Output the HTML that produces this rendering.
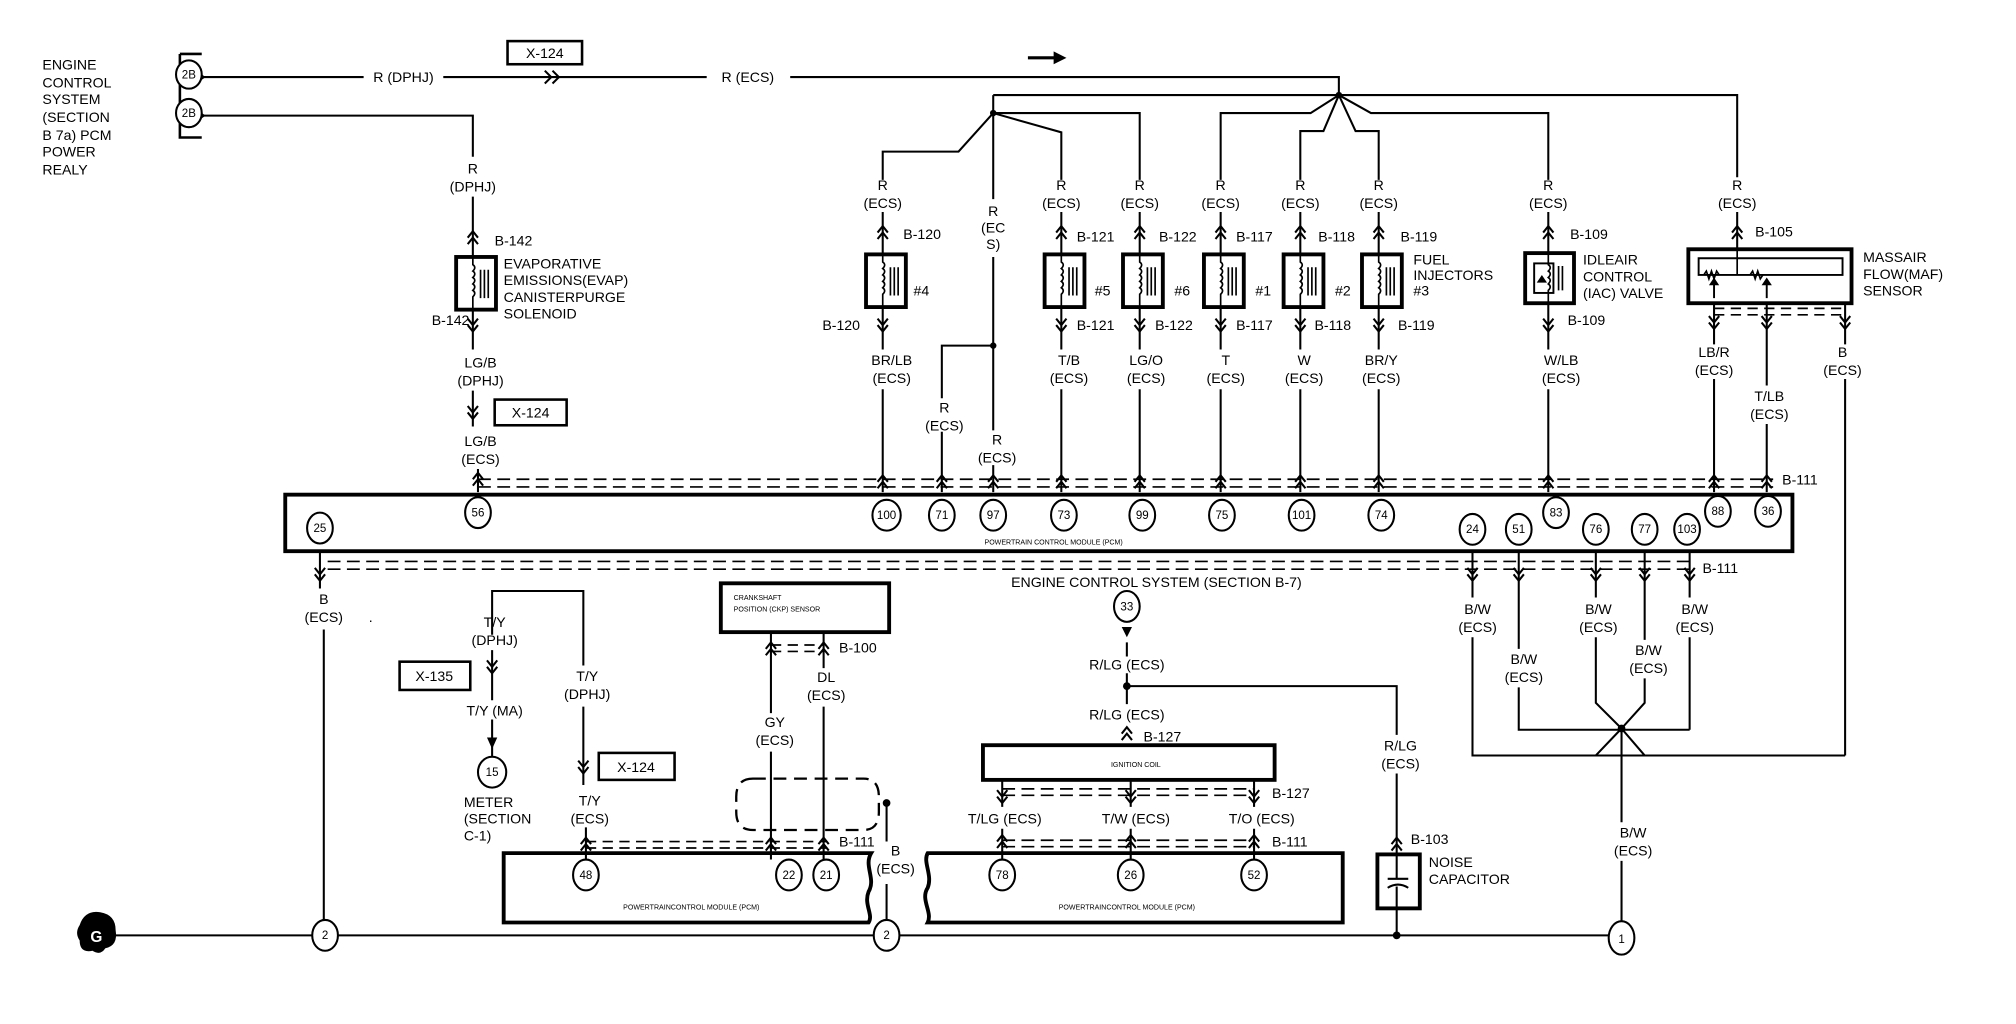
<!DOCTYPE html>
<html><head><meta charset="utf-8"><style>
html,body{margin:0;padding:0;background:#fff;}
svg{display:block}
text{font-family:"Liberation Sans",sans-serif;fill:#000;}
</style></head><body>
<svg width="2016" height="1024" viewBox="0 0 1569 797" preserveAspectRatio="none" xmlns="http://www.w3.org/2000/svg">
<defs>
<g id="up"><path d="M-4,5 L0,0 L4,5 M-4,10 L0,5 L4,10" fill="none" stroke="#000" stroke-width="1.6"/></g>
<g id="dn"><path d="M-4,-5 L0,0 L4,-5 M-4,-10 L0,-5 L4,-10" fill="none" stroke="#000" stroke-width="1.6"/></g>
<g id="inj"><rect x="-13" y="0" width="31" height="41" fill="#fff" stroke="#000" stroke-width="3"/>
<path d="M0,0 V6 q3,2 0,5 q3,2 0,5 q3,2 0,5 q3,2 0,5 q3,2 0,5 V41" fill="none" stroke="#000" stroke-width="1.3"/>
<path d="M6,10 V32 M9,10 V32 M12,10 V32" stroke="#000" stroke-width="1.3"/></g>
</defs>
<g fill="none" stroke="#000" stroke-width="1.6">
<!-- top wires -->
<path d="M158,60 H283 M345,60 H550 M615,60 H1042 V74 M773,74 H1352 V138"/>
<path d="M158,90 H368 V122"/>
<path d="M140,42 H157 M140,42 V107 H157" stroke-width="2"/>
<!-- junction A branches -->
<path d="M773,74 V155 M773,88 L746,118 H687 V140 M773,88 L826,103 V140 M773,88 H887 V140"/>
<path d="M773,200 V335 M773,269 H733 V310"/>
<!-- junction B fan -->
<path d="M1042,74 L1020,88 H950 V140 M1042,74 L1030,102 H1012 V140 M1042,74 L1055,102 H1073 V140 M1042,74 L1067,88 H1205 V140"/>
<!-- injector columns -->
<path d="M687,165 V272 M687,303 V383 M826,165 V272 M826,303 V383 M887,165 V272 M887,303 V383 M950,165 V272 M950,303 V383 M1012,165 V272 M1012,303 V383 M1073,165 V272 M1073,303 V383 M1205,165 V272 M1205,303 V383"/>
<path d="M733,336 V383 M773,362 V383"/>
<!-- EVAP -->
<path d="M368,153 V272 M368,304 V332 M372,365 V383"/>
<!-- MAF -->
<path d="M1352,165 V214 M1334,232 V268 M1334,295 V383 M1375,232 V300 M1375,330 V383 M1436,232 V268 M1436,295 V588"/>
<!-- PCM main box -->
<rect x="222" y="385" width="1173" height="44" stroke-width="3"/>
<path d="M372,373 H1380 M372,379 H1380 M255,437 H1320 M255,443 H1320" stroke-dasharray="10,5" stroke-width="1.3"/>
<path d="M687,500 V500"/>
<!-- B/W wires -->
<path d="M1146,429 V465 M1146,496 V588 H1436 M1182,429 V505 M1182,535 V568 H1315 M1242,429 V465 M1242,496 V547 L1262,567 L1242,588 M1280,429 V498 M1280,528 V547 L1262,567 L1280,588 M1315,429 V465 M1315,496 V568 M1262,567 V640 M1262,670 V718"/>
<!-- lower left -->
<path d="M249,429 V458 M252,490 V716"/>
<path d="M88,728 H243 M263,728 H680 M700,728 H1252"/>
<path d="M383,494 V460 H454 V518 M454,550 V611 M456,644 V669"/>
<path d="M383,506 V545 M383,560 V590"/>
<!-- CKP -->
<rect x="561" y="454" width="131" height="38" stroke-width="3"/>
<path d="M600,492 V555 M600,585 V669 M641,492 V520 M641,550 V669"/>
<path d="M600,502 H641 M600,507 H641 M456,655 H643 M456,660 H643" stroke-dasharray="8,5" stroke-width="1.3"/>
<path d="M586,606 H672 Q684,606 684,620 V632 Q684,646 672,646 H586 Q573,646 573,632 V620 Q573,606 586,606 Z" stroke-dasharray="10,6" stroke-width="1.8"/>
<path d="M690,625 V655 M690,688 V716"/>
<!-- lower PCM boxes -->
<path d="M392,664 H678 c-6,10 4,20 -2,30 c-4,10 4,18 0,24 H392 Z" stroke-width="3"/>
<path d="M722,664 H1045 V718 H722 c4,-8 -6,-18 0,-27 c4,-10 -4,-20 0,-27 Z" stroke-width="3"/>
<!-- ignition -->
<rect x="765" y="580" width="227" height="27" stroke-width="3"/>
<path d="M877,500 V511 M877,524 V548 M877,534 H1087 V572 M1087,602 V665 M1087,707 V728"/>
<path d="M780,607 V628 M880,607 V628 M976,607 V628 M780,645 V669 M880,645 V669 M976,645 V669"/>
<path d="M780,614 H976 M780,619 H976 M780,654 H976 M780,659 H976" stroke-dasharray="10,5" stroke-width="1.3"/>
<rect x="1072" y="665" width="33" height="42" stroke-width="3"/>
<path d="M1080,684 H1096 M1080,691 Q1088,686 1096,691" stroke-width="1.6"/>
<path d="M1087,665 V684 M1087,690 V707"/>
<path d="M1334,240 H1436 M1334,245 H1436" stroke-dasharray="8,5" stroke-width="1.3"/>
</g>
<!-- arrows -->
<g>
<use href="#up" x="368" y="180"/><use href="#dn" x="368" y="258"/><use href="#dn" x="368" y="326"/><use href="#up" x="372" y="368"/>
<use href="#up" x="687" y="176"/><use href="#dn" x="687" y="258"/>
<use href="#up" x="826" y="176"/><use href="#dn" x="826" y="258"/>
<use href="#up" x="887" y="176"/><use href="#dn" x="887" y="258"/>
<use href="#up" x="950" y="176"/><use href="#dn" x="950" y="258"/>
<use href="#up" x="1012" y="176"/><use href="#dn" x="1012" y="258"/>
<use href="#up" x="1073" y="176"/><use href="#dn" x="1073" y="258"/>
<use href="#up" x="1205" y="176"/><use href="#dn" x="1205" y="258"/>
<use href="#up" x="1352" y="176"/>
<use href="#dn" x="1334" y="256"/><use href="#dn" x="1375" y="256"/><use href="#dn" x="1436" y="256"/>
<use href="#up" x="687" y="370"/><use href="#up" x="733" y="370"/><use href="#up" x="773" y="370"/><use href="#up" x="826" y="370"/><use href="#up" x="887" y="370"/><use href="#up" x="950" y="370"/><use href="#up" x="1012" y="370"/><use href="#up" x="1073" y="370"/><use href="#up" x="1205" y="370"/><use href="#up" x="1334" y="370"/><use href="#up" x="1375" y="370"/>
<use href="#dn" x="249" y="452"/><use href="#dn" x="1146" y="452"/><use href="#dn" x="1182" y="452"/><use href="#dn" x="1242" y="452"/><use href="#dn" x="1280" y="452"/><use href="#dn" x="1315" y="452"/>
<use href="#dn" x="383" y="524"/><use href="#dn" x="454" y="602"/>
<use href="#up" x="600" y="500"/><use href="#up" x="641" y="500"/>
<use href="#up" x="456" y="652"/><use href="#up" x="600" y="652"/><use href="#up" x="641" y="652"/>
<use href="#up" x="877" y="566"/>
<use href="#dn" x="780" y="625"/><use href="#dn" x="880" y="625"/><use href="#dn" x="976" y="625"/>
<use href="#up" x="780" y="650"/><use href="#up" x="880" y="650"/><use href="#up" x="976" y="650"/>
<use href="#up" x="1087" y="652"/>
</g>
<!-- components -->
<use href="#inj" x="368" y="200"/>
<use href="#inj" x="687" y="198"/><use href="#inj" x="826" y="198"/><use href="#inj" x="887" y="198"/><use href="#inj" x="950" y="198"/><use href="#inj" x="1012" y="198"/><use href="#inj" x="1073" y="198"/>
<g fill="none" stroke="#000">
<rect x="1187" y="197" width="38" height="39" stroke-width="3" fill="#fff"/>
<rect x="1194" y="205" width="15" height="23" stroke-width="1.5"/>
<path d="M1205,197 V206 q3,2 0,5 q3,2 0,5 q3,2 0,5 q3,2 0,5 V236 M1213,207 V226 M1216,207 V226" stroke-width="1.3"/>
<rect x="1314" y="194" width="127" height="42" stroke-width="3" fill="#fff"/>
<path d="M1322,201 H1434 V214 H1322 Z" stroke-width="1.5"/>
<path d="M1326,214 l2,-3 l2,6 l2,-6 l2,6 l2,-6 l2,3 M1352,214 V194 M1362,214 l2,-3 l2,6 l2,-6 l2,6 l2,-3" stroke-width="1.3"/>
<path d="M1334,232 V218 M1375,232 V218" stroke-width="1.5"/>
</g>
<path d="M1330,222 L1334,216 L1338,222 Z M1371,222 L1375,216 L1379,222 Z M1196,220 l4,-6 l4,6 Z" fill="#000"/>
<!-- triangles / dots -->
<path d="M153,55 L160,60 L153,65 Z M153,85 L160,90 L153,95 Z M873,488 L881,488 L877,496 Z M379,574 L387,574 L383,583 Z" fill="#000"/>
<path d="M424,55 l5,5 l-5,5 M430,55 l5,5 l-5,5" fill="none" stroke="#000" stroke-width="1.6"/>
<path d="M800,45 H822" stroke="#000" stroke-width="2.5"/><path d="M820,40 L830,45 L820,50 Z" fill="#000"/>
<g fill="#000"><circle cx="773" cy="88" r="2.5"/><circle cx="1042" cy="74" r="2.5"/><circle cx="773" cy="269" r="2.5"/><circle cx="1262" cy="567" r="3"/><circle cx="877" cy="534" r="3"/><circle cx="690" cy="625" r="3"/><circle cx="1087" cy="728" r="3"/></g>
<!-- boxes X -->
<g fill="#fff" stroke="#000" stroke-width="2">
<rect x="395" y="32" width="58" height="18"/><rect x="385" y="311" width="56" height="20"/><rect x="311" y="515" width="55" height="22"/><rect x="466" y="586" width="59" height="21"/>
</g>
<g font-size="11" text-anchor="middle">
<text x="424" y="45">X-124</text><text x="413" y="325">X-124</text><text x="338" y="530">X-135</text><text x="495" y="601">X-124</text>
</g>
<!-- circles -->
<g fill="#fff" stroke="#000" stroke-width="1.6">
<ellipse cx="147" cy="58" rx="10" ry="11"/><ellipse cx="147" cy="88" rx="10" ry="11"/>
<ellipse cx="249" cy="411" rx="10" ry="12"/><ellipse cx="372" cy="399" rx="10" ry="12"/>
<ellipse cx="690" cy="401" rx="11" ry="12"/><ellipse cx="733" cy="401" rx="10" ry="12"/><ellipse cx="773" cy="401" rx="10" ry="12"/><ellipse cx="828" cy="401" rx="10" ry="12"/><ellipse cx="889" cy="401" rx="10" ry="12"/><ellipse cx="951" cy="401" rx="10" ry="12"/><ellipse cx="1013" cy="401" rx="10" ry="12"/><ellipse cx="1075" cy="401" rx="10" ry="12"/><ellipse cx="1211" cy="399" rx="10" ry="12"/><ellipse cx="1337" cy="398" rx="10" ry="12"/><ellipse cx="1376" cy="398" rx="10" ry="12"/>
<ellipse cx="1146" cy="412" rx="10" ry="12"/><ellipse cx="1182" cy="412" rx="10" ry="12"/><ellipse cx="1242" cy="412" rx="10" ry="12"/><ellipse cx="1280" cy="412" rx="10" ry="12"/><ellipse cx="1313" cy="412" rx="10" ry="12"/>
<ellipse cx="383" cy="601" rx="11" ry="12"/><ellipse cx="877" cy="472" rx="10" ry="12"/>
<ellipse cx="456" cy="681" rx="10" ry="12"/><ellipse cx="614" cy="681" rx="10" ry="12"/><ellipse cx="643" cy="681" rx="10" ry="12"/>
<ellipse cx="780" cy="681" rx="10" ry="12"/><ellipse cx="880" cy="681" rx="10" ry="12"/><ellipse cx="976" cy="681" rx="10" ry="12"/>
<ellipse cx="253" cy="728" rx="10" ry="12"/><ellipse cx="690" cy="728" rx="10" ry="12"/><ellipse cx="1262" cy="730" rx="10" ry="13"/>
</g>
<path d="M62,720 q4,-12 16,-10 q12,2 12,14 q2,12 -8,14 q-4,6 -10,2 q-10,2 -10,-8 q-4,-6 0,-12 Z" fill="#000"/>
<text x="75" y="733" font-size="12" font-weight="bold" text-anchor="middle" style="fill:#fff">G</text>
<g font-size="9" text-anchor="middle">
<text x="147" y="61">2B</text><text x="147" y="91">2B</text>
<text x="249" y="414">25</text><text x="372" y="402">56</text><text x="690" y="404">100</text><text x="733" y="404">71</text><text x="773" y="404">97</text><text x="828" y="404">73</text><text x="889" y="404">99</text><text x="951" y="404">75</text><text x="1013" y="404">101</text><text x="1075" y="404">74</text><text x="1211" y="402">83</text><text x="1337" y="401">88</text><text x="1376" y="401">36</text>
<text x="1146" y="415">24</text><text x="1182" y="415">51</text><text x="1242" y="415">76</text><text x="1280" y="415">77</text><text x="1313" y="415">103</text>
<text x="383" y="604">15</text><text x="877" y="475">33</text>
<text x="456" y="684">48</text><text x="614" y="684">22</text><text x="643" y="684">21</text><text x="780" y="684">78</text><text x="880" y="684">26</text><text x="976" y="684">52</text>
<text x="253" y="731">2</text><text x="690" y="731">2</text><text x="1262" y="734">1</text>
</g>
<!-- small box labels -->
<g font-size="5.5">
<text x="820" y="424" text-anchor="middle">POWERTRAIN CONTROL MODULE (PCM)</text>
<text x="538" y="708" text-anchor="middle">POWERTRAINCONTROL MODULE (PCM)</text>
<text x="877" y="708" text-anchor="middle">POWERTRAINCONTROL MODULE (PCM)</text>
<text x="884" y="597" text-anchor="middle">IGNITION COIL</text>
<text x="571" y="467">CRANKSHAFT</text><text x="571" y="476">POSITION (CKP) SENSOR</text>
</g>
<!-- labels -->
<g font-size="11">
<text x="33" y="54">ENGINE</text><text x="33" y="68">CONTROL</text><text x="33" y="81">SYSTEM</text><text x="33" y="95">(SECTION</text><text x="33" y="109">B 7a) PCM</text><text x="33" y="122">POWER</text><text x="33" y="136">REALY</text>
<text x="392" y="209">EVAPORATIVE</text><text x="392" y="222">EMISSIONS(EVAP)</text><text x="392" y="235">CANISTERPURGE</text><text x="392" y="248">SOLENOID</text>
<text x="385" y="191">B-142</text><text x="336" y="253">B-142</text>
<text x="703" y="186">B-120</text><text x="640" y="257">B-120</text><text x="711" y="230">#4</text>
<text x="838" y="188">B-121</text><text x="838" y="257">B-121</text><text x="852" y="230">#5</text>
<text x="902" y="188">B-122</text><text x="899" y="257">B-122</text><text x="914" y="230">#6</text>
<text x="962" y="188">B-117</text><text x="962" y="257">B-117</text><text x="977" y="230">#1</text>
<text x="1026" y="188">B-118</text><text x="1023" y="257">B-118</text><text x="1039" y="230">#2</text>
<text x="1090" y="188">B-119</text><text x="1088" y="257">B-119</text>
<text x="1100" y="206">FUEL</text><text x="1100" y="218">INJECTORS</text><text x="1100" y="230">#3</text>
<text x="1222" y="186">B-109</text><text x="1220" y="253">B-109</text>
<text x="1232" y="206">IDLEAIR</text><text x="1232" y="219">CONTROL</text><text x="1232" y="232">(IAC) VALVE</text>
<text x="1366" y="184">B-105</text>
<text x="1450" y="204">MASSAIR</text><text x="1450" y="217">FLOW(MAF)</text><text x="1450" y="230">SENSOR</text>
<text x="1387" y="377">B-111</text><text x="1325" y="446">B-111</text>
<text x="653" y="508">B-100</text><text x="653" y="659">B-111</text>
<text x="890" y="577">B-127</text><text x="990" y="621">B-127</text><text x="990" y="659">B-111</text>
<text x="1098" y="657">B-103</text>
<text x="1112" y="675">NOISE</text><text x="1112" y="688">CAPACITOR</text>
<text x="361" y="628">METER</text><text x="361" y="641">(SECTION</text><text x="361" y="654">C-1)</text>
<text x="287" y="484">.</text>
</g>
<g font-size="11" text-anchor="middle">
<text x="314" y="64">R (DPHJ)</text><text x="582" y="64">R (ECS)</text>
<text x="368" y="135">R</text><text x="368" y="149">(DPHJ)</text>
<text x="687" y="148">R</text><text x="687" y="162">(ECS)</text>
<text x="773" y="168">R</text><text x="773" y="181">(EC</text><text x="773" y="194">S)</text>
<text x="826" y="148">R</text><text x="826" y="162">(ECS)</text>
<text x="887" y="148">R</text><text x="887" y="162">(ECS)</text>
<text x="950" y="148">R</text><text x="950" y="162">(ECS)</text>
<text x="1012" y="148">R</text><text x="1012" y="162">(ECS)</text>
<text x="1073" y="148">R</text><text x="1073" y="162">(ECS)</text>
<text x="1205" y="148">R</text><text x="1205" y="162">(ECS)</text>
<text x="1352" y="148">R</text><text x="1352" y="162">(ECS)</text>
<text x="374" y="286">LG/B</text><text x="374" y="300">(DPHJ)</text>
<text x="374" y="347">LG/B</text><text x="374" y="361">(ECS)</text>
<text x="694" y="284">BR/LB</text><text x="694" y="298">(ECS)</text>
<text x="735" y="321">R</text><text x="735" y="335">(ECS)</text>
<text x="776" y="346">R</text><text x="776" y="360">(ECS)</text>
<text x="832" y="284">T/B</text><text x="832" y="298">(ECS)</text>
<text x="892" y="284">LG/O</text><text x="892" y="298">(ECS)</text>
<text x="954" y="284">T</text><text x="954" y="298">(ECS)</text>
<text x="1015" y="284">W</text><text x="1015" y="298">(ECS)</text>
<text x="1075" y="284">BR/Y</text><text x="1075" y="298">(ECS)</text>
<text x="1215" y="284">W/LB</text><text x="1215" y="298">(ECS)</text>
<text x="1334" y="278">LB/R</text><text x="1334" y="292">(ECS)</text>
<text x="1377" y="312">T/LB</text><text x="1377" y="326">(ECS)</text>
<text x="1434" y="278">B</text><text x="1434" y="292">(ECS)</text>
<text x="252" y="470">B</text><text x="252" y="484">(ECS)</text>
<text x="385" y="488">T/Y</text><text x="385" y="502">(DPHJ)</text>
<text x="385" y="557">T/Y (MA)</text>
<text x="457" y="530">T/Y</text><text x="457" y="544">(DPHJ)</text>
<text x="459" y="627">T/Y</text><text x="459" y="641">(ECS)</text>
<text x="603" y="566">GY</text><text x="603" y="580">(ECS)</text>
<text x="643" y="531">DL</text><text x="643" y="545">(ECS)</text>
<text x="697" y="666">B</text><text x="697" y="680">(ECS)</text>
<text x="900" y="457">ENGINE CONTROL SYSTEM (SECTION B-7)</text>
<text x="877" y="521">R/LG (ECS)</text>
<text x="877" y="560">R/LG (ECS)</text>
<text x="782" y="641">T/LG (ECS)</text><text x="884" y="641">T/W (ECS)</text><text x="982" y="641">T/O (ECS)</text>
<text x="1090" y="584">R/LG</text><text x="1090" y="598">(ECS)</text>
<text x="1150" y="478">B/W</text><text x="1150" y="492">(ECS)</text>
<text x="1186" y="517">B/W</text><text x="1186" y="531">(ECS)</text>
<text x="1244" y="478">B/W</text><text x="1244" y="492">(ECS)</text>
<text x="1283" y="510">B/W</text><text x="1283" y="524">(ECS)</text>
<text x="1319" y="478">B/W</text><text x="1319" y="492">(ECS)</text>
<text x="1271" y="652">B/W</text><text x="1271" y="666">(ECS)</text>
</g>
</svg>
</body></html>
